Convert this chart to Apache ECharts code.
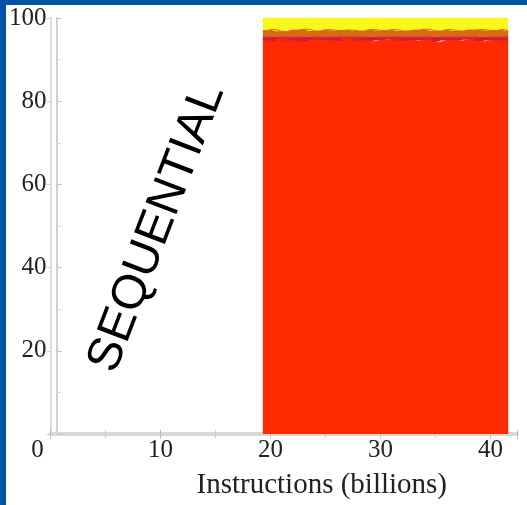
<!DOCTYPE html>
<html>
<head>
<meta charset="utf-8">
<script src="https://cdn.jsdelivr.net/npm/echarts@6/dist/echarts.min.js"></script>
<style>
  html, body { margin: 0; padding: 0; background: #0054a4; }
  #chart { position: absolute; left: 6px; top: 5px; width: 521px; height: 500px; background: #ffffff; }
</style>
</head>
<body>
<div id="chart"></div>
<script>
// x positions (billions of instructions)
var instr = [19.3, 20, 21, 22, 23, 24, 25, 26, 27, 28, 29, 30, 31, 32, 33, 34, 35, 36, 37, 38, 39, 40, 41, 41.6];
// stacked shares (%), bottom to top
var redPart = [94.6, 94.3, 94.8, 94.5, 94.2, 94.7, 94.6, 94.4, 94.9, 94.5, 94.3, 94.6, 94.8, 94.4, 94.5, 94.7, 94.2, 94.6, 94.5, 94.8, 94.3, 94.6, 94.5, 94.4];
var crimsonPart = [0.8, 1.0, 0.6, 0.9, 1.1, 0.7, 0.8, 1.0, 0.5, 0.9, 1.0, 0.8, 0.6, 1.0, 0.9, 0.7, 1.1, 0.8, 0.9, 0.6, 1.0, 0.8, 0.9, 1.0];
var orangePart = [1.6, 1.9, 1.4, 1.7, 2.0, 1.5, 1.8, 1.6, 1.7, 1.5, 1.9, 1.6, 1.8, 1.5, 1.7, 1.9, 1.6, 1.8, 1.5, 1.7, 1.9, 1.6, 1.8, 1.5];
var yellowPart = [3.0, 2.8, 3.2, 2.9, 2.7, 3.1, 2.8, 3.0, 2.9, 3.1, 2.8, 3.0, 2.8, 3.1, 2.9, 2.7, 3.1, 2.8, 3.1, 2.9, 2.8, 3.0, 2.8, 3.1];
var xTicks = [0, 10, 20, 30, 40];
var yTicks = [0, 20, 40, 60, 80, 100];

var chart = echarts.init(document.getElementById("chart"));

// value first so the stack sums the share, not the x position
function pairs(vals) {
  return vals.map(function (v, i) { return [v, instr[i]]; });
}

function layer(name, vals, color) {
  return {
    name: name,
    type: "line",
    stack: "share",
    step: "middle",
    symbol: "none",
    dimensions: ["share", "instr"],
    encode: { x: "instr", y: "share" },
    data: pairs(vals),
    lineStyle: { width: 1, color: color },
    areaStyle: { color: color, opacity: 1 },
    silent: true
  };
}

var serif = "'Liberation Serif', 'DejaVu Serif', serif";

var option = {
  animation: false,
  grid: { left: 40, right: 10, top: 13, bottom: 68 },
  xAxis: [
    {
      type: "value",
      min: 0,
      max: 42.4,
      interval: 10,
      name: "Instructions (billions)",
      nameLocation: "middle",
      nameGap: 37,
      nameTextStyle: { fontFamily: serif, fontSize: 29, color: "#222", padding: [0, 0, 0, 76] },
      axisLine: { lineStyle: { color: "#c4c4c4", width: 2 } },
      axisTick: { inside: true, length: 4, lineStyle: { color: "#bbb" } },
      minorTick: { show: true, splitNumber: 2, length: 4, lineStyle: { color: "#ccc" } },
      splitLine: { show: false },
      axisLabel: {
        margin: 4,
        fontFamily: serif,
        fontSize: 25,
        color: "#222",
        formatter: function (v) {
          return xTicks.indexOf(v) === 0 ? "{z|" + v + "}" : String(v);
        },
        rich: { z: { fontFamily: serif, fontSize: 25, color: "#222", padding: [0, 26, 0, 0] } }
      }
    },
    {
      type: "value",
      position: "top",
      min: 0,
      max: 42.4,
      interval: 10,
      axisLine: { show: true, lineStyle: { color: "#d8d8d8", width: 4 } },
      axisTick: { inside: true, length: 5, lineStyle: { color: "#c4c4c4" } },
      minorTick: { show: true, splitNumber: 2, length: 4, lineStyle: { color: "#d0d0d0" } },
      axisLabel: { show: false },
      splitLine: { show: false }
    }
  ],
  yAxis: [
    {
      type: "value",
      offset: -6,
      min: yTicks[0],
      max: yTicks[yTicks.length - 1],
      interval: 20,
      axisLine: { show: true, lineStyle: { color: "#d0d0d0", width: 2 } },
      axisTick: { show: true, inside: true, length: 5, lineStyle: { color: "#c4c4c4" } },
      minorTick: { show: true, splitNumber: 2, length: 4, lineStyle: { color: "#d4d4d4" } },
      splitLine: { show: false },
      axisLabel: {
        showMinLabel: false,
        margin: 10,
        fontFamily: serif,
        fontSize: 25,
        color: "#222"
      }
    },
    {
      type: "value",
      position: "right",
      min: 0,
      max: 100,
      interval: 20,
      axisLine: { show: true, lineStyle: { color: "#d0d0d0", width: 1.5 } },
      axisTick: { show: true, inside: true, length: 4, lineStyle: { color: "#d0d0d0" } },
      axisLabel: { show: false },
      splitLine: { show: false }
    }
  ],
  graphic: [
    {
      type: "text",
      x: 151,
      y: 223,
      rotation: 69 * Math.PI / 180,
      style: {
        text: "SEQUENTIAL",
        font: "48px 'Liberation Sans', Arial, sans-serif",
        fill: "#000",
        align: "center",
        verticalAlign: "middle"
      }
    }
  ],
  series: [
    layer("red", redPart, "#ff2a00"),
    layer("crimson", crimsonPart, "#d41a36"),
    layer("orange", orangePart, "#dc6a14"),
    layer("yellow", yellowPart, "#f8f81c")
  ]
};

chart.setOption(option);
</script>
</body>
</html>
